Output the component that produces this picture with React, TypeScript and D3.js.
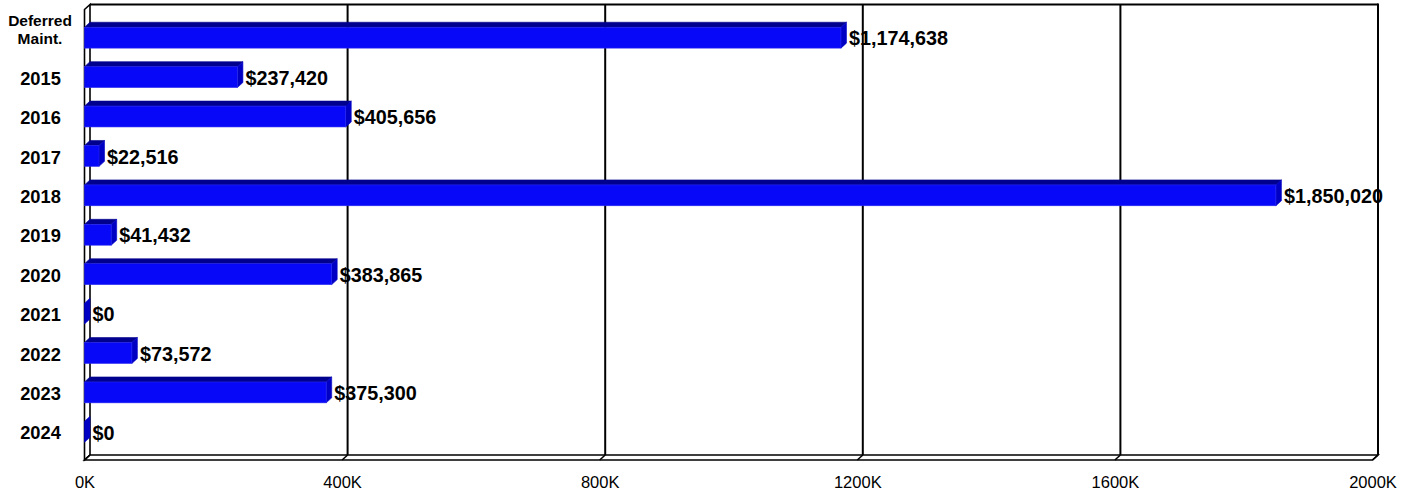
import React from "react";
import * as d3 from "d3";

const categories: string[] = [
  "Deferred\nMaint.",
  "2015",
  "2016",
  "2017",
  "2018",
  "2019",
  "2020",
  "2021",
  "2022",
  "2023",
  "2024",
];
const values: number[] = [
  1174638, 237420, 405656, 22516, 1850020, 41432, 383865, 0, 73572, 375300, 0,
];
const xTicks: number[] = [0, 400000, 800000, 1200000, 1600000, 2000000];
const xTickLabels: string[] = ["0K", "400K", "800K", "1200K", "1600K", "2000K"];

const W = 1413;
const H = 493;
const DX = -5.5;
const DY = 5;
const TOP = 4.5;
const BOTTOM = 455;

const FRONT = "#0808F8";
const TOPC = "#00008E";
const SIDE = "#0000C4";

export default function App() {
  const x = d3.scaleLinear().domain([0, 2000000]).range([90, 1378]);
  const y = d3
    .scaleBand<string>()
    .domain(categories)
    .range([TOP, BOTTOM])
    .paddingInner(0.47)
    .paddingOuter(0.45);
  const bw = y.bandwidth();
  const fmt = d3.format("$,");
  const x0 = x(0);

  const pts = (a: [number, number][]) => a.map((p) => p.join(",")).join(" ");

  return (
    <svg
      width={W}
      height={H}
      style={{ position: "absolute", left: 0, top: 0, background: "#fff" }}
      fontFamily="'Liberation Sans', Arial, sans-serif"
    >
      {/* back wall gridlines */}
      {xTicks.slice(1, -1).map((t) => (
        <line key={"g" + t} x1={x(t)} x2={x(t)} y1={TOP} y2={BOTTOM} stroke="#000" strokeWidth={2} />
      ))}
      {/* top and right border */}
      <line x1={x0} x2={x(2000000)} y1={TOP} y2={TOP} stroke="#000" strokeWidth={2} />
      <line x1={x(2000000)} x2={x(2000000)} y1={TOP - 1} y2={BOTTOM} stroke="#000" strokeWidth={2} />
      {/* left wall */}
      <polygon
        points={pts([
          [x0, TOP],
          [x0 + DX, TOP + DY],
          [x0 + DX, BOTTOM + DY],
          [x0, BOTTOM],
        ])}
        fill="#fff"
        stroke="#000"
        strokeWidth={1.6}
      />
      {/* floor */}
      <polygon
        points={pts([
          [x0, BOTTOM],
          [x(2000000), BOTTOM],
          [x(2000000) + DX, BOTTOM + DY],
          [x0 + DX, BOTTOM + DY],
        ])}
        fill="#fff"
        stroke="#000"
        strokeWidth={1.6}
      />
      {xTicks.map((t) => (
        <line
          key={"f" + t}
          x1={x(t)}
          y1={BOTTOM}
          x2={x(t) + DX}
          y2={BOTTOM + DY}
          stroke="#000"
          strokeWidth={1.6}
        />
      ))}
      {/* bars */}
      {categories.map((c, i) => {
        const v = values[i];
        const yb = y(c) as number;
        const xv = x(v);
        const fTop = yb + DY;
        const fBot = yb + DY + bw;
        return (
          <g key={c}>
            {v > 0 && (
              <polygon
                points={pts([
                  [x0 + DX, fTop],
                  [xv + DX, fTop],
                  [xv, yb],
                  [x0, yb],
                ])}
                fill={TOPC}
                stroke={TOPC}
                strokeWidth={0.6}
              />
            )}
            <polygon
              points={pts([
                [xv + DX, fTop],
                [xv, yb],
                [xv, yb + bw],
                [xv + DX, fBot],
              ])}
              fill={SIDE}
              stroke={SIDE}
              strokeWidth={0.6}
            />
            {v > 0 && (
              <rect
                x={x0 + DX}
                y={fTop}
                width={xv - x0}
                height={bw}
                fill={FRONT}
                stroke="#2a2af0"
                strokeWidth={0.6}
              />
            )}
          </g>
        );
      })}
      {/* value labels */}
      {categories.map((c, i) => {
        const yb = y(c) as number;
        return (
          <text
            key={"v" + c}
            x={x(values[i]) + 2.5}
            y={yb + DY + bw / 2 + 0.8}
            dy="0.35em"
            fontSize={19.8}
            fontWeight="bold"
            fill="#000"
          >
            {fmt(values[i])}
          </text>
        );
      })}
      {/* category labels */}
      {categories.map((c) => {
        const yc = (y(c) as number) + DY + bw / 2;
        const lines = c.split("\n");
        if (lines.length > 1) {
          return (
            <text key={"c" + c} textAnchor="middle" fontSize={15.5} fontWeight="bold" fill="#000">
              <tspan x={40} y={yc - 17.5} dy="0.35em">
                {lines[0]}
              </tspan>
              <tspan x={40} y={yc + 1.2} dy="0.35em">
                {lines[1]}
              </tspan>
            </text>
          );
        }
        return (
          <text
            key={"c" + c}
            x={40.5}
            y={yc + 1.2}
            dy="0.35em"
            textAnchor="middle"
            fontSize={18.3}
            fontWeight="bold"
            fill="#000"
          >
            {c}
          </text>
        );
      })}
      {/* x tick labels */}
      {xTicks.map((t, i) => (
        <text key={"t" + t} x={x(t) + DX + 0.5} y={488} textAnchor="middle" fontSize={16.5} fill="#000">
          {xTickLabels[i]}
        </text>
      ))}
    </svg>
  );
}
